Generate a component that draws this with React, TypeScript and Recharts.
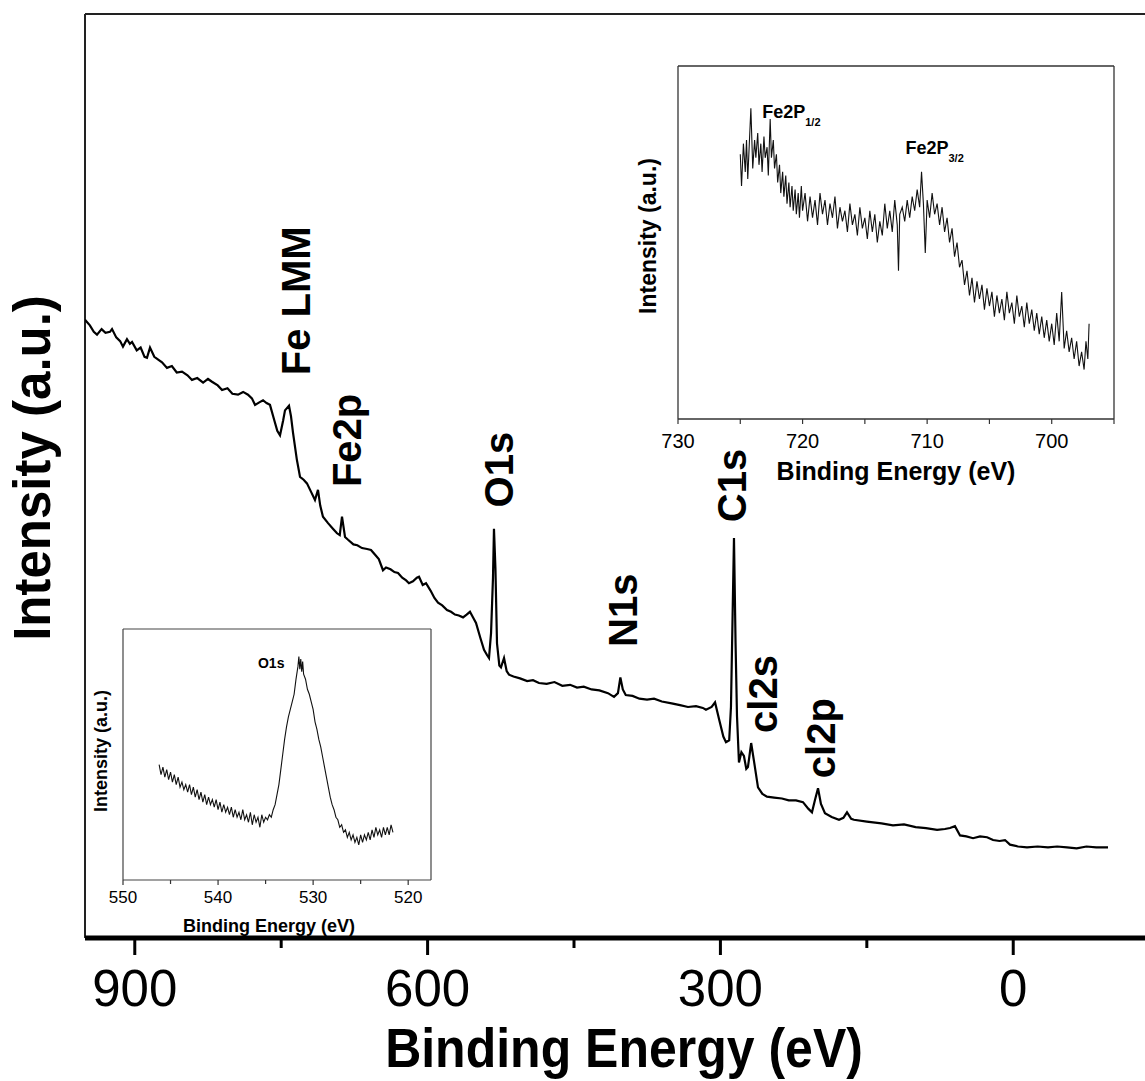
import React from "react";
import { LineChart, Line, XAxis, YAxis, ReferenceDot, ReferenceLine, Label } from "recharts";

const FONT = "'Liberation Sans', Arial, Helvetica, sans-serif";

// ---------- Survey spectrum (main) ----------
const surveyEnergy = [
  951, 946, 942, 938.7, 934, 930, 925.4, 923.3, 919, 915, 912.1, 908, 905, 902.8, 898, 894, 890, 887.5, 884.4, 880,
  876, 872.1, 867, 862, 857, 851.6, 846, 841.4, 836, 830, 825, 820.9, 815, 810.6, 805, 800, 794.2, 789, 784, 780,
  776.8, 772, 768.6, 765, 761.5, 757, 754, 751.2, 748, 746.1, 742, 740, 737.9, 734, 730.7, 727, 723.6, 719, 715.4, 712.3,
  710, 707.2, 702, 697, 692.8, 690, 687.7, 684.6, 681.5, 676, 672, 667.2, 662, 658, 654, 650, 645.7, 642.6, 638, 634,
  630.3, 626, 622, 619.1, 615, 611, 608.8, 605, 601.6, 597, 593, 589.3, 585, 580.1, 576, 572, 568, 563.7, 560, 556.6,
  553, 550.4, 546, 542.2, 539, 537.1, 535, 533, 532, 530.5, 528.9, 526.5, 524.8, 521.7, 519, 516.6, 512, 505.3, 498, 492,
  485.9, 478, 470, 462, 454, 446.9, 440, 432, 424, 415.2, 409, 405, 402.5, 400, 397, 390, 383, 375.2, 368, 360,
  350, 341.4, 333.2, 325, 318, 314.8, 309, 305.5, 301, 297, 294.3, 291, 289.2, 287.5, 286.1, 284.5, 283, 281, 278.5, 275.9,
  273.5, 271.8, 268.5, 265.4, 261.5, 257, 252.3, 245, 237, 230, 222.6, 215.4, 210, 206.2, 203, 200, 197, 192.9, 186, 178.5,
  174, 170.3, 166, 163.2, 150, 135, 123.2, 111.9, 100, 89.4, 78, 70, 64.8, 59.7, 54.5, 48, 41.2, 34, 26.8, 20.7,
  14, 8.4, 3.3, -5, -14.1, -25, -35.6, -45, -55.1, -65, -75, -85, -97.1,
];
const surveyIntensity = [
  66.9, 66.3, 65.6, 65.3, 65.9, 65.5, 65.6, 65.9, 65.0, 64.6, 64.0, 64.8, 64.3, 64.5, 63.6, 63.9, 62.9, 62.8, 63.9, 62.9,
  62.6, 62.3, 61.7, 61.9, 61.2, 61.3, 60.9, 60.4, 60.6, 60.1, 60.5, 60.2, 59.8, 59.3, 59.5, 58.9, 58.8, 59.1, 58.8, 58.4,
  57.7, 58.0, 58.2, 57.9, 57.7, 56.0, 54.9, 54.4, 56.0, 57.1, 57.6, 56.5, 54.7, 51.8, 49.9, 49.6, 49.2, 48.2, 47.4, 48.5,
  46.8, 45.6, 44.9, 44.3, 43.8, 43.6, 45.6, 43.4, 43.1, 42.6, 42.5, 42.2, 42.1, 42.0, 41.5, 41.0, 39.8, 40.1, 39.9, 39.6,
  39.5, 39.0, 38.7, 38.4, 38.6, 39.0, 39.1, 38.2, 38.4, 37.6, 36.8, 36.3, 36.0, 35.5, 35.3, 35.0, 34.9, 34.7, 35.0, 35.3,
  34.6, 34.1, 32.5, 31.2, 30.6, 30.3, 33.0, 39.0, 44.3, 40.0, 31.9, 29.5, 29.3, 30.3, 28.9, 28.5, 28.3, 28.1, 27.8, 27.9,
  27.6, 27.5, 27.7, 27.3, 27.4, 27.1, 27.2, 26.9, 26.8, 26.5, 26.1, 26.5, 28.2, 26.9, 26.3, 26.2, 25.9, 25.8, 25.9, 25.6,
  25.4, 25.2, 25.0, 25.1, 24.9, 24.7, 25.0, 25.5, 23.5, 21.8, 21.2, 21.4, 25.0, 35.0, 43.3, 32.0, 24.0, 19.0, 20.1, 19.7,
  18.3, 18.5, 21.1, 19.0, 16.3, 15.6, 15.3, 15.2, 15.1, 14.9, 14.9, 14.7, 14.0, 13.6, 15.0, 16.2, 14.5, 13.5, 13.1, 12.8,
  13.0, 13.6, 12.9, 12.8, 12.6, 12.4, 12.2, 12.3, 12.0, 11.9, 11.7, 11.8, 11.9, 12.1, 11.1, 11.0, 10.8, 11.0, 10.9, 10.6,
  10.5, 10.6, 10.1, 9.9, 9.8, 9.9, 9.8, 9.9, 9.8, 9.7, 9.9, 9.8, 9.8,
];
const surveyDomain = [-135, 951];
const surveyMajorTicks = [900, 600, 300, 0];
const surveyMinorTicks = [750, 450, 150];
const peakNames = ["Fe LMM", "Fe2p", "O1s", "N1s", "C1s", "cl2s", "cl2p"];
const peakLabelEnergy = [720.5, 668.2, 512.5, 385.5, 273.8, 242.0, 182.6];
const peakLabelIntensity = [60.9, 48.8, 46.6, 31.5, 45.0, 22.2, 17.3];

// ---------- Fe 2p inset ----------
const feEnergy = [
  725.0, 724.9, 724.75, 724.6, 724.5, 724.4, 724.25, 724.15, 724.0, 723.85, 723.75, 723.6, 723.5, 723.35, 723.25, 723.1,
  723.0, 722.85, 722.75, 722.6, 722.5, 722.35, 722.25, 722.1, 722.0, 721.85, 721.75, 721.6, 721.5, 721.35, 721.25, 721.1,
  721.0, 720.85, 720.75, 720.6, 720.5, 720.35, 720.25, 720.1, 720.0, 719.8, 719.6, 719.4, 719.2, 719.0, 718.8, 718.6,
  718.4, 718.2, 718.0, 717.8, 717.6, 717.4, 717.2, 717.0, 716.8, 716.6, 716.4, 716.2, 716.0, 715.8, 715.6, 715.4,
  715.2, 715.0, 714.8, 714.6, 714.4, 714.2, 714.0, 713.8, 713.6, 713.4, 713.2, 713.0, 712.8, 712.6, 712.4, 712.3,
  712.2, 712.0, 711.8, 711.6, 711.4, 711.2, 711.0, 710.8, 710.6, 710.45, 710.3, 710.15, 710.0, 709.8, 709.6, 709.4,
  709.2, 709.0, 708.8, 708.6, 708.4, 708.2, 708.0, 707.8, 707.6, 707.4, 707.2, 707.0, 706.8, 706.6, 706.4, 706.2,
  706.0, 705.8, 705.6, 705.4, 705.2, 705.0, 704.8, 704.6, 704.4, 704.2, 704.0, 703.8, 703.6, 703.4, 703.2, 703.0,
  702.8, 702.6, 702.4, 702.2, 702.0, 701.8, 701.6, 701.4, 701.2, 701.0, 700.8, 700.6, 700.4, 700.2, 700.0, 699.8,
  699.6, 699.4, 699.2, 699.0, 698.8, 698.6, 698.4, 698.2, 698.0, 697.8, 697.6, 697.4, 697.25, 697.1, 697.0,
];
const feIntensity = [
  75, 66, 78, 70, 79, 68, 80, 88, 71, 79, 74, 81, 72, 78, 70, 80,
  74, 77, 69, 85, 74, 79, 71, 75, 67, 72, 64, 70, 63, 69, 61, 67,
  60, 66, 59, 65, 58, 64, 57, 66, 59, 64, 56, 63, 57, 62, 55, 64,
  58, 62, 55, 61, 57, 63, 54, 60, 56, 59, 53, 61, 55, 58, 52, 60,
  54, 57, 51, 59, 53, 58, 50, 56, 52, 61, 54, 59, 53, 62, 55, 42,
  58, 60, 56, 62, 57, 63, 59, 65, 60, 70, 61, 47, 62, 57, 64, 58,
  61, 55, 60, 53, 57, 50, 54, 46, 50, 43, 45, 38, 42, 35, 40, 33,
  39, 34, 38, 31, 37, 32, 36, 29, 35, 30, 34, 28, 36, 30, 33, 27,
  35, 29, 32, 26, 33, 27, 31, 25, 30, 24, 29, 23, 28, 22, 27, 21,
  30, 22, 36, 20, 25, 19, 23, 17, 22, 15, 19, 14, 22, 17, 27,
];
const feDomain = [695, 730];
const feMajorTicks = [730, 720, 710, 700];
const feMinorTicks = [725, 715, 705, 695];
const feAnnotMain = ["Fe2P", "Fe2P"];
const feAnnotSub = ["1/2", "3/2"];
const feAnnotEnergy = [723.24, 711.74];
const feAnnotIntensity = [85.3, 75.1];

// ---------- O 1s inset ----------
const oEnergy = [
  546.2, 546.0, 545.8, 545.6, 545.4, 545.2, 545.0, 544.8, 544.6, 544.4, 544.2, 544.0, 543.8, 543.6, 543.4, 543.2,
  543.0, 542.8, 542.6, 542.4, 542.2, 542.0, 541.8, 541.6, 541.4, 541.2, 541.0, 540.8, 540.6, 540.4, 540.2, 540.0,
  539.8, 539.6, 539.4, 539.2, 539.0, 538.8, 538.6, 538.4, 538.2, 538.0, 537.8, 537.6, 537.4, 537.2, 537.0, 536.8,
  536.6, 536.4, 536.2, 536.0, 535.8, 535.6, 535.4, 535.2, 535.0, 534.8, 534.6, 534.4, 534.2, 534.0, 533.8, 533.6,
  533.4, 533.2, 533.0, 532.8, 532.6, 532.4, 532.2, 532.0, 531.8, 531.6, 531.5, 531.4, 531.3, 531.2, 531.1, 531.0,
  530.8, 530.6, 530.4, 530.2, 530.0, 529.8, 529.6, 529.4, 529.2, 529.0, 528.8, 528.6, 528.4, 528.2, 528.0, 527.8,
  527.6, 527.4, 527.2, 527.0, 526.8, 526.6, 526.4, 526.2, 526.0, 525.8, 525.6, 525.4, 525.2, 525.0, 524.8, 524.6,
  524.4, 524.2, 524.0, 523.8, 523.6, 523.4, 523.2, 523.0, 522.8, 522.6, 522.4, 522.2, 522.0, 521.8, 521.6,
];
const oIntensity = [
  46, 42, 45, 41, 44, 40, 43, 39, 42, 38, 41, 37, 39, 36, 38, 35,
  38, 34, 37, 33, 36, 32, 35, 31, 34, 30, 33, 30, 32, 29, 32, 28,
  31, 27, 30, 27, 29, 26, 29, 25, 28, 25, 27, 24, 28, 24, 26, 23,
  27, 22, 26, 23, 25, 21, 26, 23, 25, 24, 26, 25, 28, 30, 34, 38,
  44, 50, 56, 61, 65, 68, 71, 74, 80, 85, 89, 84, 88, 83, 87, 82,
  80, 76, 74, 71, 68, 63, 60, 56, 53, 49, 45, 41, 37, 33, 30, 28,
  25, 24, 21, 22, 19, 20, 17, 19, 16, 18, 15, 17, 14, 18, 15, 18,
  16, 19, 16, 20, 17, 21, 18, 20, 17, 21, 18, 21, 18, 22, 19,
];
const oDomain = [517.6, 550];
const oMajorTicks = [550, 540, 530, 520];
const oMinorTicks = [545, 535, 525];
const oAnnotText = ["O1s"];
const oAnnotEnergy = [535.8];
const oAnnotIntensity = [84.5];

const surveyData = surveyEnergy.map((e, i) => ({ e, v: surveyIntensity[i] }));
const feData = feEnergy.map((e, i) => ({ e, v: feIntensity[i] }));
const oData = oEnergy.map((e, i) => ({ e, v: oIntensity[i] }));

// ---------- Tick / label renderers ----------
const makeTick = (majors: number[], majorLen: number, minorLen: number, fontSize: number, textDy: number, sw: number, color: string, y0: number) =>
  (props: any) => {
    const { x, y, payload } = props;
    const major = majors.includes(payload.value);
    return (
      <g>
        <line x1={x} x2={x} y1={y + y0} y2={y + y0 + (major ? majorLen : minorLen)} stroke={color} strokeWidth={sw} />
        {major && (
          <text x={x} y={y + textDy} textAnchor="middle" fontSize={fontSize} fontFamily={FONT} fill="#000">
            {payload.value}
          </text>
        )}
      </g>
    );
  };

const SurveyTick = makeTick(surveyMajorTicks, 15, 8, 51, 68, 3, "#000", 2);
const FeTick = makeTick(feMajorTicks, 5, 5, 20, 29, 1.2, "#333", 0);
const OTick = makeTick(oMajorTicks, 5, 4, 17, 23, 1.2, "#333", 0);

// Draws both axis titles; viewBox is the x-axis box (x = plot left, y = plot bottom)
const titles = (
  xText: string, xdx: number, xdy: number, xFont: number, xsy: number,
  yText: string, ydx: number, ycy: number, yFont: number
) => (props: any) => {
  const vb = props.viewBox || {};
  const cx = vb.x + xdx;
  const cy = vb.y + xdy;
  const yx = vb.x + ydx;
  return (
    <g>
      <text
        transform={`translate(${cx} ${cy}) scale(1 ${xsy})`}
        x={0}
        y={0}
        textAnchor="middle"
        fontSize={xFont}
        fontWeight="bold"
        fontFamily={FONT}
        fill="#000"
      >
        {xText}
      </text>
      <text
        transform={`rotate(-90 ${yx} ${ycy})`}
        x={yx}
        y={ycy}
        textAnchor="middle"
        fontSize={yFont}
        fontWeight="bold"
        fontFamily={FONT}
        fill="#000"
      >
        {yText}
      </text>
    </g>
  );
};

const rotatedLabel = (text: string, fontSize: number) => (p: any) => (
  <text
    transform={`rotate(-90 ${p.cx} ${p.cy})`}
    x={p.cx}
    y={p.cy}
    textAnchor="start"
    fontSize={fontSize}
    fontWeight="bold"
    fontFamily={FONT}
    fill="#000"
  >
    {text}
  </text>
);

const subLabel = (main: string, sub: string, fontSize: number, subSize: number) => (p: any) => (
  <text x={p.cx} y={p.cy} fontSize={fontSize} fontWeight="bold" fontFamily={FONT} fill="#000">
    {main}
    {sub ? (
      <tspan fontSize={subSize} dy={8}>
        {sub}
      </tspan>
    ) : null}
  </text>
);

export default function App() {
  return (
    <div style={{ position: "absolute", left: 0, top: 0, width: 1145, height: 1081, background: "#fff" }}>
      {/* Main survey chart */}
      <div style={{ position: "absolute", left: 0, top: 0 }}>
        <LineChart width={1145} height={1081} data={surveyData} margin={{ top: 14, right: 0, left: 85, bottom: 0 }}>
          <XAxis
            dataKey="e"
            type="number"
            domain={surveyDomain}
            reversed
            allowDataOverflow
            ticks={[...surveyMajorTicks, ...surveyMinorTicks]}
            interval={0}
            tickSize={0}
            tickMargin={0}
            tickLine={false}
            axisLine={{ stroke: "#000", strokeWidth: 5 }}
            height={143}
            tick={SurveyTick}
          >
            <Label content={titles("Binding Energy (eV)", 539, 129, 50, 1.12, "Intensity (a.u.)", -35, 468, 51)} />
          </XAxis>
          <YAxis type="number" domain={[0, 100]} allowDataOverflow hide />
          <ReferenceLine x={951} stroke="#222" strokeWidth={2} />
          <ReferenceLine y={100} stroke="#222" strokeWidth={2} />
          <Line type="linear" dataKey="v" stroke="#000" strokeWidth={2.2} dot={false} isAnimationActive={false} />
          {peakNames.map((n, i) => (
            <ReferenceDot
              key={n}
              x={peakLabelEnergy[i]}
              y={peakLabelIntensity[i]}
              r={0}
              shape={rotatedLabel(n, 40)}
              isAnimationActive={false}
            />
          ))}
        </LineChart>
      </div>

      {/* Fe 2p inset */}
      <div style={{ position: "absolute", left: 620, top: 60 }}>
        <LineChart width={520} height={440} data={feData} margin={{ top: 6, right: 26, left: 58, bottom: 0 }}>
          <XAxis
            dataKey="e"
            type="number"
            domain={feDomain}
            reversed
            allowDataOverflow
            ticks={[...feMajorTicks, ...feMinorTicks]}
            interval={0}
            tickSize={0}
            tickMargin={0}
            tickLine={false}
            axisLine={{ stroke: "#333", strokeWidth: 1.3 }}
            height={81}
            tick={FeTick}
          >
            <Label content={titles("Binding Energy (eV)", 218, 61, 25, 1.05, "Intensity (a.u.)", -22, 176, 23)} />
          </XAxis>
          <YAxis type="number" domain={[0, 100]} allowDataOverflow hide />
          <ReferenceLine x={730} stroke="#333" strokeWidth={1.3} />
          <ReferenceLine x={695} stroke="#333" strokeWidth={1.3} />
          <ReferenceLine y={100} stroke="#333" strokeWidth={1.3} />
          <Line type="linear" dataKey="v" stroke="#111" strokeWidth={1.1} dot={false} isAnimationActive={false} />
          {feAnnotMain.map((m, i) => (
            <ReferenceDot
              key={i}
              x={feAnnotEnergy[i]}
              y={feAnnotIntensity[i]}
              r={0}
              shape={subLabel(m, feAnnotSub[i], 18, 11)}
              isAnimationActive={false}
            />
          ))}
        </LineChart>
      </div>

      {/* O 1s inset */}
      <div style={{ position: "absolute", left: 90, top: 620 }}>
        <LineChart width={350} height={320} data={oData} margin={{ top: 9, right: 9, left: 33, bottom: 0 }}>
          <XAxis
            dataKey="e"
            type="number"
            domain={oDomain}
            reversed
            allowDataOverflow
            ticks={[...oMajorTicks, ...oMinorTicks]}
            interval={0}
            tickSize={0}
            tickMargin={0}
            tickLine={false}
            axisLine={{ stroke: "#444", strokeWidth: 1.2 }}
            height={60}
            tick={OTick}
          >
            <Label content={titles("Binding Energy (eV)", 146, 52, 18, 1.0, "Intensity (a.u.)", -16, 131, 18)} />
          </XAxis>
          <YAxis type="number" domain={[0, 100]} allowDataOverflow hide />
          <ReferenceLine x={550} stroke="#444" strokeWidth={1.2} />
          <ReferenceLine x={517.6} stroke="#444" strokeWidth={1.2} />
          <ReferenceLine y={100} stroke="#444" strokeWidth={1.2} />
          <Line type="linear" dataKey="v" stroke="#111" strokeWidth={1.1} dot={false} isAnimationActive={false} />
          {oAnnotText.map((t, i) => (
            <ReferenceDot
              key={t}
              x={oAnnotEnergy[i]}
              y={oAnnotIntensity[i]}
              r={0}
              shape={subLabel(t, "", 14, 10)}
              isAnimationActive={false}
            />
          ))}
        </LineChart>
      </div>
    </div>
  );
}
